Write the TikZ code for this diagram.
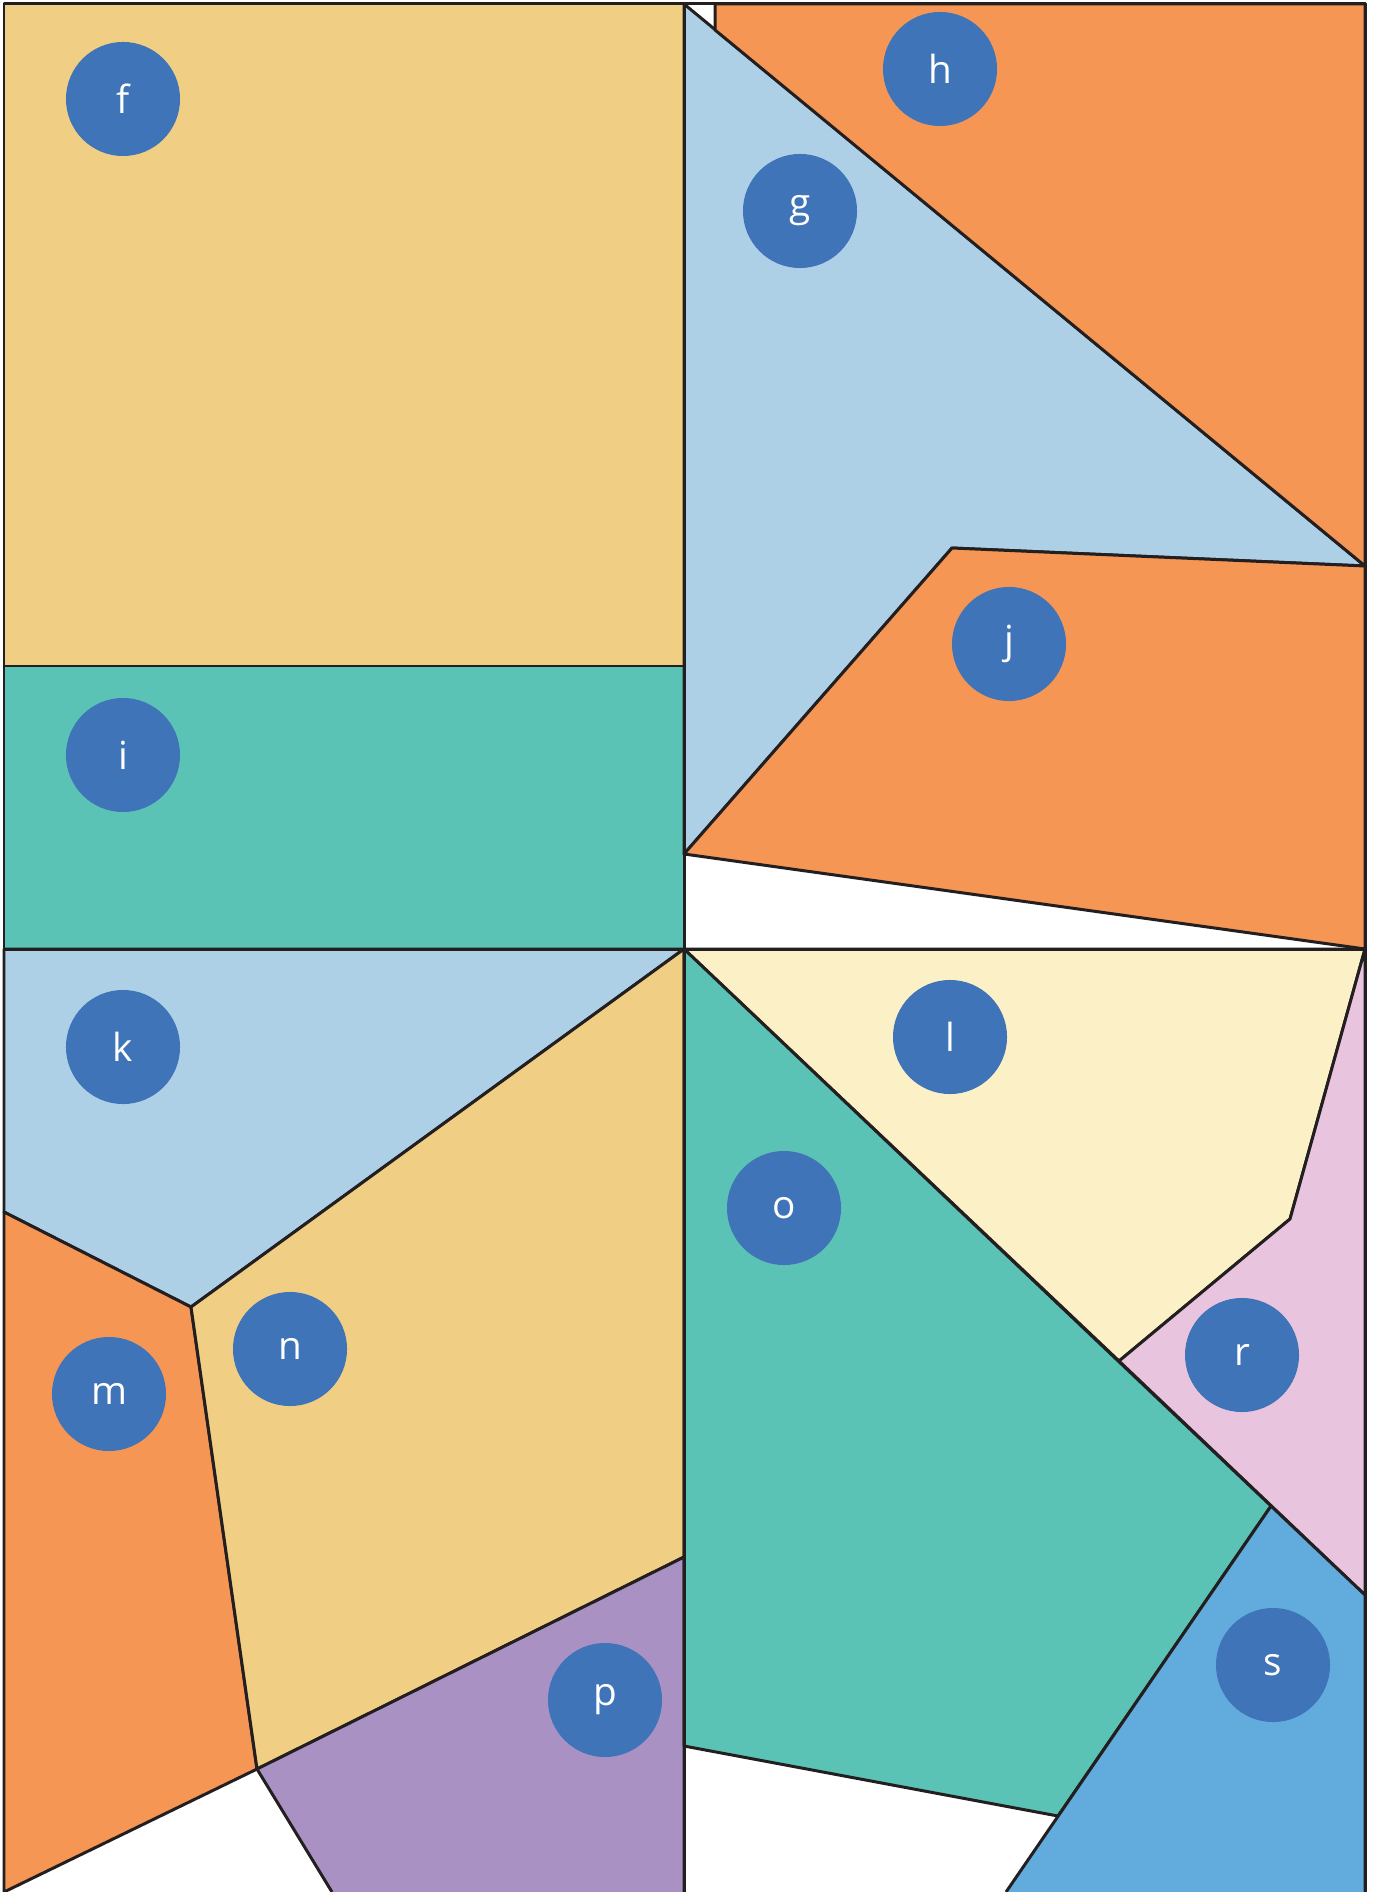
\documentclass[tikz,border=0pt]{standalone}
\usepackage{fontspec}
\setmainfont{Open Sans}
\usepackage{xcolor}
\usepackage{tikz}
\usetikzlibrary{positioning}

\definecolor{tan}{HTML}{F0CE84}
\definecolor{skyblue}{HTML}{AED0E6}
\definecolor{orangefill}{HTML}{F59655}
\definecolor{tealfill}{HTML}{5BC3B5}
\definecolor{paleyellow}{HTML}{FCF0C6}
\definecolor{pinkfill}{HTML}{E9C4DE}
\definecolor{midblue}{HTML}{61ACDD}
\definecolor{purplefill}{HTML}{A992C3}
\definecolor{dotblue}{HTML}{3F74B8}
\definecolor{edgegray}{HTML}{231F20}

\begin{document}
\begin{tikzpicture}[
  x=0.01cm, y=-0.01cm,
  region/.style={draw=edgegray, line width=0.85pt, line join=round},
  seam/.style={draw=edgegray, line width=0.85pt, line join=round},
  dot/.style={circle, fill=dotblue, minimum size=1.14cm, inner sep=0pt,
              text=white, font=\fontsize{11}{13}\selectfont}
]
  \useasboundingbox (0,0) rectangle (1377,1892);

  % Upper half
  \fill[tan]        (4,4) rectangle (684,666);
  \fill[tealfill]   (4,666) rectangle (684,949);
  \filldraw[region, fill=skyblue]    (684,4) -- (1365,566) -- (952,548) -- (684,854) -- cycle;
  \filldraw[region, fill=orangefill] (715,4) -- (1365,4) -- (1365,566) -- (715,30) -- cycle;
  \filldraw[region, fill=orangefill] (952,548) -- (1365,566) -- (1365,949) -- (684,854) -- cycle;

  % Lower half
  \filldraw[region, fill=skyblue]    (4,949) -- (684,949) -- (191,1307) -- (4,1212) -- cycle;
  \filldraw[region, fill=orangefill] (4,1212) -- (191,1307) -- (257,1769) -- (4,1892) -- cycle;
  \filldraw[region, fill=tan]        (191,1307) -- (684,949) -- (684,1557) -- (257,1769) -- cycle;
  \filldraw[region, fill=purplefill] (332,1892) -- (257,1769) -- (684,1557) -- (684,1892);
  \filldraw[region, fill=paleyellow] (684,949) -- (1365,949) -- (1290,1219) -- (1119,1361) -- cycle;
  \filldraw[region, fill=pinkfill]   (1365,949) -- (1365,1595) -- (1119,1361) -- (1290,1219) -- cycle;
  \filldraw[region, fill=tealfill]   (684,949) -- (1271,1506) -- (1058,1816) -- (684,1746) -- cycle;
  \filldraw[region, fill=midblue]    (1006,1892) -- (1271,1506) -- (1365,1595) -- (1365,1892);

  % Frame and seams
  \draw[seam] (4,1892) -- (4,4) -- (1365,4) -- (1365,1892);
  \draw[seam] (684,4) -- (684,1892);
  \draw[seam] (4,666) -- (684,666);
  \draw[seam] (4,949) -- (1365,949);

  % Labels
  \node[dot] (f) at (123,99)   {f};
  \node[dot] (h) at (940,69)   {h};
  \node[dot] (g) at (800,211)  {g};
  \node[dot] (j) at (1009,644) {j};
  \node[dot] (i) at (123,755)  {i};
  \node[dot] (k) at (123,1047) {k};
  \node[dot] (l) at (950,1037) {l};
  \node[dot] (o) at (784,1208) {o};
  \node[dot] (n) at (290,1349) {n};
  \node[dot] (m) at (109,1394) {m};
  \node[dot] (r) at (1242,1355) {r};
  \node[dot] (s) at (1273,1665) {s};
  \node[dot] (p) at (605,1700) {p};
\end{tikzpicture}
\end{document}
